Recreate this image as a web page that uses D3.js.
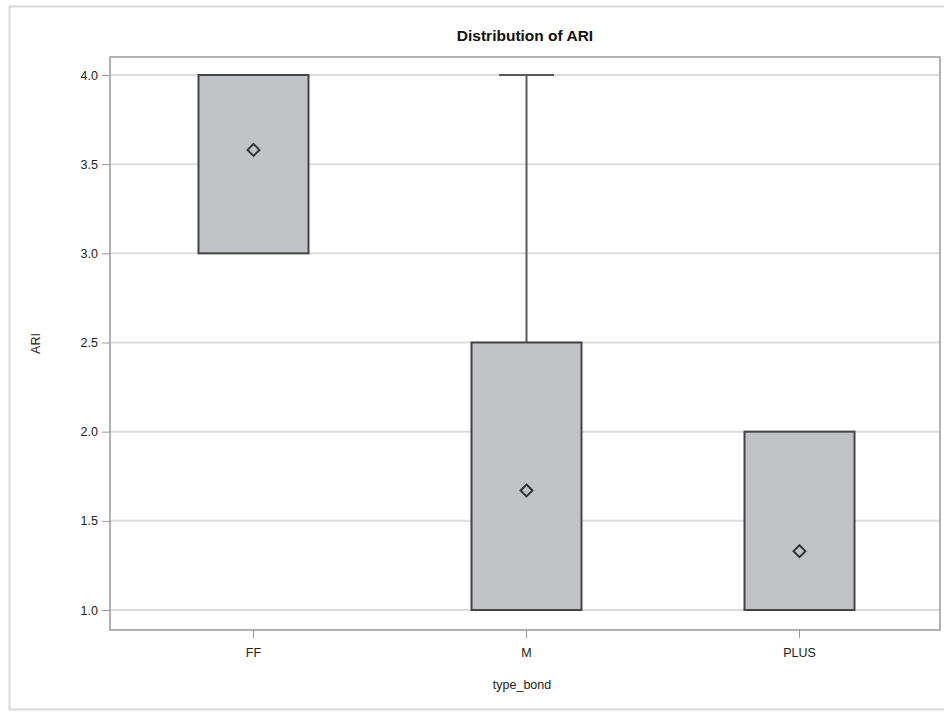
<!DOCTYPE html>
<html>
<head>
<meta charset="utf-8">
<script src="https://cdn.jsdelivr.net/npm/d3@7"></script>
<style>
  html, body { margin: 0; padding: 0; background: #fff; }
  svg { display: block; }
  text { font-family: "Liberation Sans", Arial, sans-serif; }
</style>
</head>
<body>
<svg id="chart" width="944" height="713"></svg>
<script>
// ---- Data ----
const categories = ["FF", "M", "PLUS"];
const q1Values     = [3.0, 1.0, 1.0];
const q3Values     = [4.0, 2.5, 2.0];
const minValues    = [3.0, 1.0, 1.0];
const maxValues    = [4.0, 4.0, 2.0];
const meanValues   = [3.58, 1.67, 1.33];
const yTicks       = [1.0, 1.5, 2.0, 2.5, 3.0, 3.5, 4.0];
const titleText    = "Distribution of ARI";
const xLabel       = "type_bond";
const yLabel       = "ARI";

// ---- Layout ----
const svg = d3.select("#chart");
const frame = { left: 110, right: 940, top: 57, bottom: 630 };

// outer border
svg.append("rect")
  .attr("x", 9.5).attr("y", 6.5)
  .attr("width", 945).attr("height", 703)
  .attr("fill", "#fff").attr("stroke", "#d9d9d9").attr("stroke-width", 2);

const y = d3.scaleLinear().domain([1, 4]).range([610, 75]);
const x = d3.scaleBand().domain(categories).range([117, 936]).paddingInner(0).paddingOuter(0);
const xc = c => x(c) + x.bandwidth() / 2;
const boxW = 110;

// gridlines
svg.append("g").selectAll("line").data(yTicks).join("line")
  .attr("x1", frame.left).attr("x2", frame.right)
  .attr("y1", d => y(d)).attr("y2", d => y(d))
  .attr("stroke", "#dcdcdc").attr("stroke-width", 2);

// frame
svg.append("rect")
  .attr("x", frame.left).attr("y", frame.top)
  .attr("width", frame.right - frame.left).attr("height", frame.bottom - frame.top)
  .attr("fill", "none").attr("stroke", "#999").attr("stroke-width", 1.5);

// y axis
const yAxis = d3.axisLeft(y).tickValues(yTicks).tickFormat(d3.format(".1f")).tickSize(8).tickPadding(4);
const gy = svg.append("g").attr("transform", `translate(${frame.left},0)`).call(yAxis);
gy.select(".domain").remove();
gy.selectAll(".tick line").attr("stroke", "#999");
gy.selectAll(".tick text").attr("fill", "#222").attr("font-size", 12.5);

// x axis
const xAxis = d3.axisBottom(x).tickSize(8).tickPadding(10);
const gx = svg.append("g").attr("transform", `translate(0,${frame.bottom})`).call(xAxis);
gx.select(".domain").remove();
gx.selectAll(".tick line").attr("stroke", "#999");
gx.selectAll(".tick text").attr("fill", "#222").attr("font-size", 12.5);

// boxes
const data = categories.map((c, i) => ({
  c, q1: q1Values[i], q3: q3Values[i], min: minValues[i], max: maxValues[i], mean: meanValues[i]
}));

const g = svg.append("g");
data.forEach(d => {
  const cx = xc(d.c);
  if (d.max > d.q3) {
    g.append("line").attr("x1", cx).attr("x2", cx).attr("y1", y(d.q3)).attr("y2", y(d.max))
      .attr("stroke", "#5a5a5a").attr("stroke-width", 2);
    g.append("line").attr("x1", cx - boxW / 4).attr("x2", cx + boxW / 4)
      .attr("y1", y(d.max)).attr("y2", y(d.max))
      .attr("stroke", "#5a5a5a").attr("stroke-width", 2);
  }
  if (d.min < d.q1) {
    g.append("line").attr("x1", cx).attr("x2", cx).attr("y1", y(d.q1)).attr("y2", y(d.min))
      .attr("stroke", "#5a5a5a").attr("stroke-width", 2);
    g.append("line").attr("x1", cx - boxW / 4).attr("x2", cx + boxW / 4)
      .attr("y1", y(d.min)).attr("y2", y(d.min))
      .attr("stroke", "#5a5a5a").attr("stroke-width", 2);
  }
  g.append("rect")
    .attr("x", cx - boxW / 2).attr("y", y(d.q3))
    .attr("width", boxW).attr("height", y(d.q1) - y(d.q3))
    .attr("fill", "#c2c3c7").attr("stroke", "#444").attr("stroke-width", 2);
  g.append("path")
    .attr("d", d3.symbol().type(d3.symbolDiamond2).size(90)())
    .attr("transform", `translate(${cx},${y(d.mean)})`)
    .attr("fill", "none").attr("stroke", "#333").attr("stroke-width", 2);
});

// title
svg.append("text").attr("x", (frame.left + frame.right) / 2).attr("y", 41)
  .attr("text-anchor", "middle").attr("font-size", 15.5).attr("font-weight", "bold")
  .attr("fill", "#111").text(titleText);

// axis labels
svg.append("text").attr("x", (frame.left + frame.right) / 2 - 3).attr("y", 689)
  .attr("text-anchor", "middle").attr("font-size", 12.5).attr("fill", "#222").text(xLabel);
svg.append("text")
  .attr("transform", `translate(40,${(frame.top + frame.bottom) / 2}) rotate(-90)`)
  .attr("text-anchor", "middle").attr("font-size", 12.5).attr("fill", "#222").text(yLabel);
</script>
</body>
</html>
